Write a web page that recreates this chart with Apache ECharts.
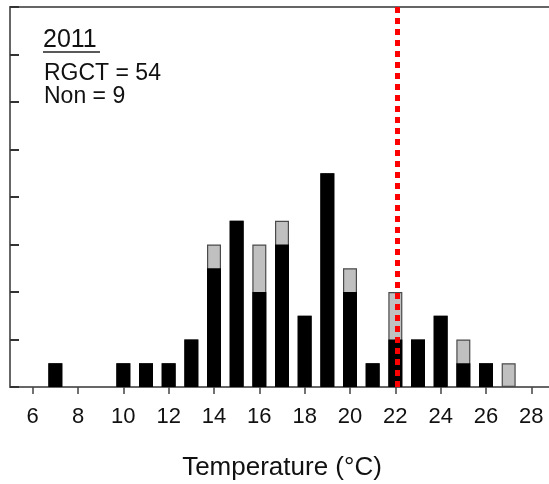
<!DOCTYPE html>
<html>
<head>
<meta charset="utf-8">
<script src="https://cdn.jsdelivr.net/npm/echarts@6/dist/echarts.min.js"></script>
<style>
  html, body { margin: 0; padding: 0; background: #fff; }
  #chart { width: 549px; height: 484px; }
</style>
</head>
<body>
<div id="chart"></div>
<script>
// temperature bins (°C)
const temps = [7, 10, 11, 12, 13, 14, 15, 16, 17, 18, 19, 20, 21, 22, 23, 24, 25, 26, 27]
// RGCT counts (black) and Non counts (gray)
const rgct = [1, 1, 1, 1, 2, 5, 7, 4, 6, 3, 9, 4, 1, 2, 2, 3, 1, 1, 0]
const non = [0, 0, 0, 0, 0, 1, 0, 2, 1, 0, 0, 1, 0, 2, 0, 0, 1, 0, 1]
const xTicks = [6, 8, 10, 12, 14, 16, 18, 20, 22, 24, 26, 28]
const threshold = 22.1
const year = '2011'
const rgctTotal = 54
const nonTotal = 9

const font = 'Liberation Sans, Arial, sans-serif'
const chart = echarts.init(document.getElementById('chart'))

// gray bar = RGCT + Non, drawn behind the black RGCT bar
const totals = temps.map((t, i) => [t, rgct[i] + non[i]])

chart.setOption({
  animation: false,
  grid: {
    left: 10,
    top: 7,
    width: 544,
    bottom: 97,
    outerBoundsMode: 'none',
    containLabel: false
  },
  xAxis: [{
    type: 'value',
    min: 5,
    max: 29,
    interval: 1,
    axisLine: { lineStyle: { color: '#666', width: 2 } },
    axisTick: {
      length: 7,
      lineStyle: { color: '#444', width: 1.5 },
      customValues: xTicks
    },
    axisLabel: {
      customValues: xTicks,
      margin: 19,
      fontSize: 22,
      color: '#111',
      fontFamily: font
    },
    splitLine: { show: false },
    name: 'Temperature (°C)',
    nameLocation: 'middle',
    nameGap: 68,
    nameTextStyle: { fontSize: 26, color: '#111', fontFamily: font }
  }, {
    type: 'value',
    position: 'top',
    min: 5,
    max: 29,
    axisLine: { show: true, lineStyle: { color: '#666', width: 2 } },
    axisTick: { show: false },
    axisLabel: { show: false },
    splitLine: { show: false }
  }],
  yAxis: {
    type: 'value',
    min: 0,
    max: 16,
    interval: 2,
    axisLine: { show: true, lineStyle: { color: '#666', width: 2 } },
    axisTick: { show: true, inside: true, length: 9, lineStyle: { color: '#333', width: 2 } },
    axisLabel: { show: false },
    splitLine: { show: false }
  },
  series: [{
    name: 'Non',
    type: 'bar',
    barWidth: 14,
    barGap: '-100%',
    itemStyle: { color: '#c0c0c0', borderColor: '#4a4a4a', borderWidth: 1.2 },
    data: totals,
    z: 1
  }, {
    name: 'RGCT',
    type: 'bar',
    barWidth: 14,
    barGap: '-100%',
    itemStyle: { color: '#000' },
    data: temps.map((t, i) => [t, rgct[i]]),
    markLine: {
      silent: true,
      symbol: 'none',
      label: { show: false },
      lineStyle: { color: '#ff0000', width: 5, type: [6, 5], cap: 'butt' },
      data: [{ xAxis: threshold }]
    },
    z: 2
  }],
  graphic: [{
    type: 'text',
    left: 43,
    top: 28,
    style: { text: year, font: '25px ' + font, fill: '#111' }
  }, {
    type: 'line',
    shape: { x1: 43, y1: 52, x2: 100, y2: 52 },
    style: { stroke: '#222', lineWidth: 1.5 }
  }, {
    type: 'text',
    left: 44,
    top: 62,
    style: { text: 'RGCT = ' + rgctTotal, font: '23px ' + font, fill: '#111' }
  }, {
    type: 'text',
    left: 44,
    top: 85,
    style: { text: 'Non = ' + nonTotal, font: '23px ' + font, fill: '#111' }
  }]
})
</script>
</body>
</html>
